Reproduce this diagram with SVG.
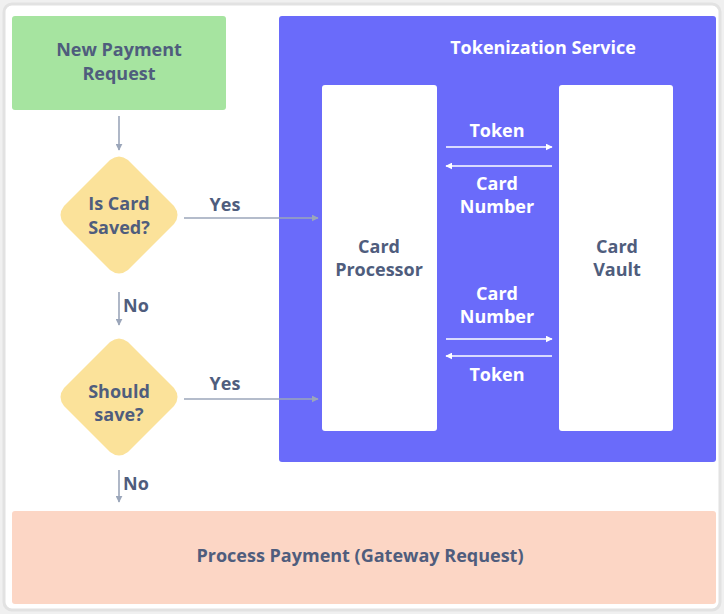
<svg xmlns="http://www.w3.org/2000/svg" width="724" height="614" viewBox="0 0 724 614">
<defs>
<style>
.t{font-family:"Open Sans",Lato,"Liberation Sans",sans-serif;font-weight:bold;font-size:18px;fill:#4f5d7d;text-anchor:middle}
.w{fill:#ffffff}
.c{stroke:#9ba6ba;stroke-width:1.6;fill:none}
.cw{stroke:#ffffff;stroke-width:1.6;fill:none}
</style>
<marker id="ag" viewBox="0 0 10 10" refX="9" refY="5" markerWidth="7" markerHeight="7" orient="auto" markerUnits="userSpaceOnUse"><path d="M0,0 L10,5 L0,10 z" fill="#9ba6ba"/></marker>
<marker id="aw" viewBox="0 0 10 10" refX="9" refY="5" markerWidth="7" markerHeight="7" orient="auto" markerUnits="userSpaceOnUse"><path d="M0,0 L10,5 L0,10 z" fill="#ffffff"/></marker>
</defs>
<rect x="0" y="0" width="724" height="614" fill="#f0f0f0"/>
<rect x="4" y="4" width="716" height="606" rx="8" fill="#ffffff" stroke="#e2e2e2" stroke-width="3"/>
<g id="new-payment">
<rect x="12" y="16" width="214" height="94" rx="3" fill="#a6e4a0"/>
<text class="t" x="119" y="56">New Payment</text>
<text class="t" x="119" y="80">Request</text>
</g>
<g id="card-saved">
<path d="M110,160 Q119,153 128,160 L174,206 Q181,215 174,224 L128,270 Q119,277 110,270 L64,224 Q57,215 64,206 Z" fill="#fbe29a"/>
<text class="t" x="119" y="210">Is Card</text>
<text class="t" x="119" y="234">Saved?</text>
</g>
<g id="should-save">
<path d="M110,342 Q119,335 128,342 L174,388 Q181,397 174,406 L128,452 Q119,459 110,452 L64,406 Q57,397 64,388 Z" fill="#fbe29a"/>
<text class="t" x="119" y="398">Should</text>
<text class="t" x="119" y="421">save?</text>
</g>
<g id="tokenization-service">
<rect x="279" y="16" width="437" height="446" rx="3" fill="#6a6bfa"/>
<text class="t w" x="543" y="54">Tokenization Service</text>
</g>
<g id="card-processor">
<rect x="322" y="85" width="115" height="346" rx="3" fill="#ffffff"/>
<text class="t" x="379" y="253">Card</text>
<text class="t" x="379" y="276">Processor</text>
</g>
<g id="card-vault">
<rect x="559" y="85" width="114" height="346" rx="3" fill="#ffffff"/>
<text class="t" x="617" y="253">Card</text>
<text class="t" x="617" y="276">Vault</text>
</g>
<g id="process-payment">
<rect x="12" y="511" width="704" height="93" rx="3" fill="#fcd6c5"/>
<text class="t" x="360" y="562">Process Payment (Gateway Request)</text>
</g>
<g id="connectors">
<line class="c" x1="119" y1="116" x2="119" y2="150" marker-end="url(#ag)"/>
<line class="c" x1="184" y1="218" x2="318" y2="218" marker-end="url(#ag)"/>
<text class="t" x="225" y="211">Yes</text>
<line class="c" x1="119" y1="292" x2="119" y2="325" marker-end="url(#ag)"/>
<text class="t" x="136" y="312">No</text>
<line class="c" x1="184" y1="399" x2="318" y2="399" marker-end="url(#ag)"/>
<text class="t" x="225" y="390">Yes</text>
<line class="c" x1="119" y1="470" x2="119" y2="502" marker-end="url(#ag)"/>
<text class="t" x="136" y="490">No</text>
<line class="cw" x1="446" y1="147" x2="552" y2="147" marker-end="url(#aw)"/>
<text class="t w" x="497" y="137">Token</text>
<line class="cw" x1="552" y1="166" x2="446" y2="166" marker-end="url(#aw)"/>
<text class="t w" x="497" y="190">Card</text>
<text class="t w" x="497" y="213">Number</text>
<text class="t w" x="497" y="300">Card</text>
<text class="t w" x="497" y="323">Number</text>
<line class="cw" x1="446" y1="339" x2="552" y2="339" marker-end="url(#aw)"/>
<line class="cw" x1="552" y1="356" x2="446" y2="356" marker-end="url(#aw)"/>
<text class="t w" x="497" y="381">Token</text>
</g>
</svg>
